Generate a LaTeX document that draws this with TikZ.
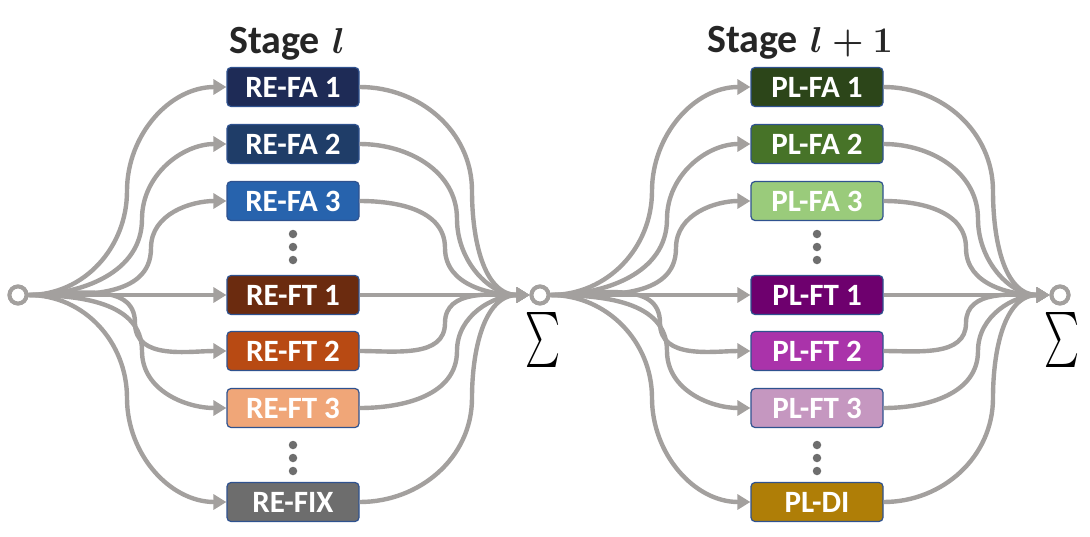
\documentclass[tikz,border=0pt]{standalone}
\usepackage{fontspec}
\setmainfont{Carlito}
\usepackage{graphicx}
\usetikzlibrary{arrows.meta}
\definecolor{wirec}{RGB}{163,160,158}
\definecolor{boxborder}{RGB}{47,82,143}
\definecolor{dotc}{RGB}{110,110,110}
\definecolor{titlec}{RGB}{38,38,38}
\definecolor{cfaA}{RGB}{30,43,86}
\definecolor{cfaB}{RGB}{31,61,104}
\definecolor{cfaC}{RGB}{39,99,173}
\definecolor{cftA}{RGB}{107,43,15}
\definecolor{cftB}{RGB}{184,74,19}
\definecolor{cftC}{RGB}{240,166,120}
\definecolor{cfix}{RGB}{109,109,109}
\definecolor{pfaA}{RGB}{44,69,25}
\definecolor{pfaB}{RGB}{71,115,40}
\definecolor{pfaC}{RGB}{154,203,123}
\definecolor{pftA}{RGB}{110,0,110}
\definecolor{pftB}{RGB}{170,51,170}
\definecolor{pftC}{RGB}{197,151,192}
\definecolor{pdi}{RGB}{175,126,7}
\newcommand{\bigmath}[1]{\resizebox{!}{25pt}{\boldmath$#1$}}
\begin{document}
\begin{tikzpicture}[x=1pt,y=-1pt,
  wire/.style={draw=wirec, line width=4.4pt},
  arr/.style={wire, -{Triangle[length=13pt,width=15pt]}},
  box/.style={draw=boxborder, line width=1.2pt, rounded corners=4pt, minimum width=132pt, minimum height=39pt, text=white, font=\fontsize{31}{34}\selectfont\bfseries, inner sep=0pt},
  junc/.style={circle, draw=wirec, line width=4pt, fill=white, minimum size=17pt, inner sep=0pt},
  vdot/.style={circle, fill=dotc, minimum size=8.5pt, inner sep=0pt},
  title/.style={text=titlec, font=\fontsize{40}{44}\selectfont\bfseries, inner sep=0pt},
  sigma/.style={inner sep=0pt}]
\useasboundingbox (0,0) rectangle (1090,536);

% titles
\node[title, anchor=base west] (t1) at (229,53) {Stage\hspace{12pt}\bigmath{l}};
\node[title, anchor=base west] (t2) at (707,52) {Stage\hspace{12pt}\bigmath{l+1}};

% junctions
\node[junc] (src) at (18,295) {};
\node[junc] (s1) at (540,295) {};
\node[junc] (s2) at (1060,295) {};
\node[sigma] (sg1) at (543,340) {\resizebox*{35pt}{55pt}{$\sum$}};
\node[sigma] (sg2) at (1062,340) {\resizebox*{35pt}{55pt}{$\sum$}};

% left boxes
\node[box, fill=cfaA] (fa1) at (293,87) {RE-FA 1};
\node[box, fill=cfaB] (fa2) at (293,144) {RE-FA 2};
\node[box, fill=cfaC] (fa3) at (293,201) {RE-FA 3};
\node[box, fill=cftA] (ft1) at (293,295) {RE-FT 1};
\node[box, fill=cftB] (ft2) at (293,351) {RE-FT 2};
\node[box, fill=cftC] (ft3) at (293,408) {RE-FT 3};
\node[box, fill=cfix] (fix) at (293,502) {RE-FIX};

% right boxes
\node[box, fill=pfaA] (pa1) at (817,87) {PL-FA 1};
\node[box, fill=pfaB] (pa2) at (817,144) {PL-FA 2};
\node[box, fill=pfaC] (pa3) at (817,201) {PL-FA 3};
\node[box, fill=pftA] (pt1) at (817,295) {PL-FT 1};
\node[box, fill=pftB] (pt2) at (817,351) {PL-FT 2};
\node[box, fill=pftC] (pt3) at (817,408) {PL-FT 3};
\node[box, fill=pdi] (pdi) at (817,502) {PL-DI};

% vertical dots
\foreach \x/\n in {293/l,817/r}{
  \node[vdot] (d\n1) at (\x,234) {};
  \node[vdot] (d\n2) at (\x,247) {};
  \node[vdot] (d\n3) at (\x,260) {};
  \node[vdot] (e\n1) at (\x,445) {};
  \node[vdot] (e\n2) at (\x,458) {};
  \node[vdot] (e\n3) at (\x,471) {};
}

% waypoints
\coordinate (ma1) at (127,191);
\coordinate (ma2) at (142,219);
\coordinate (ma3) at (151,248);
\coordinate (mb2) at (135,323);
\coordinate (mb3) at (142,351);
\coordinate (mb4) at (127,398);
\coordinate (na1) at (472,191);
\coordinate (na2) at (457,219);
\coordinate (na3) at (445,248);
\coordinate (nb2) at (445,323);
\coordinate (nb3) at (457,351);
\coordinate (nb4) at (472,398);
\coordinate (qa1) at (652,191);
\coordinate (qa2) at (667,219);
\coordinate (qa3) at (676,248);
\coordinate (qb2) at (660,323);
\coordinate (qb3) at (667,351);
\coordinate (qb4) at (652,398);
\coordinate (ra1) at (993,191);
\coordinate (ra2) at (978,219);
\coordinate (ra3) at (966,248);
\coordinate (rb2) at (966,323);
\coordinate (rb3) at (978,351);
\coordinate (rb4) at (993,398);

% stage l inputs
\draw[arr] (src.east) to[out=0,in=-90] (ma1) to[out=90,in=180] (fa1.west);
\draw[arr] (src.east) to[out=0,in=-90] (ma2) to[out=90,in=180] (fa2.west);
\draw[arr] (src.east) to[out=0,in=-90] (ma3) to[out=90,in=180] (fa3.west);
\draw[arr] (src.east) -- (ft1.west);
\draw[arr] (src.east) to[out=0,in=90] (mb2) to[out=-90,in=180] (ft2.west);
\draw[arr] (src.east) to[out=0,in=90] (mb3) to[out=-90,in=180] (ft3.west);
\draw[arr] (src.east) to[out=0,in=90] (mb4) to[out=-90,in=180] (fix.west);

% stage l outputs
\draw[arr] (fa1.east) to[out=0,in=90] (na1) to[out=-90,in=180] (s1.west);
\draw[arr] (fa2.east) to[out=0,in=90] (na2) to[out=-90,in=180] (s1.west);
\draw[arr] (fa3.east) to[out=0,in=90] (na3) to[out=-90,in=180] (s1.west);
\draw[arr] (ft1.east) -- (s1.west);
\draw[arr] (ft2.east) to[out=0,in=-90] (nb2) to[out=90,in=180] (s1.west);
\draw[arr] (ft3.east) to[out=0,in=-90] (nb3) to[out=90,in=180] (s1.west);
\draw[arr] (fix.east) to[out=0,in=-90] (nb4) to[out=90,in=180] (s1.west);

% stage l+1 inputs
\draw[arr] (s1.east) to[out=0,in=-90] (qa1) to[out=90,in=180] (pa1.west);
\draw[arr] (s1.east) to[out=0,in=-90] (qa2) to[out=90,in=180] (pa2.west);
\draw[arr] (s1.east) to[out=0,in=-90] (qa3) to[out=90,in=180] (pa3.west);
\draw[arr] (s1.east) -- (pt1.west);
\draw[arr] (s1.east) to[out=0,in=90] (qb2) to[out=-90,in=180] (pt2.west);
\draw[arr] (s1.east) to[out=0,in=90] (qb3) to[out=-90,in=180] (pt3.west);
\draw[arr] (s1.east) to[out=0,in=90] (qb4) to[out=-90,in=180] (pdi.west);

% stage l+1 outputs
\draw[arr] (pa1.east) to[out=0,in=90] (ra1) to[out=-90,in=180] (s2.west);
\draw[arr] (pa2.east) to[out=0,in=90] (ra2) to[out=-90,in=180] (s2.west);
\draw[arr] (pa3.east) to[out=0,in=90] (ra3) to[out=-90,in=180] (s2.west);
\draw[arr] (pt1.east) -- (s2.west);
\draw[arr] (pt2.east) to[out=0,in=-90] (rb2) to[out=90,in=180] (s2.west);
\draw[arr] (pt3.east) to[out=0,in=-90] (rb3) to[out=90,in=180] (s2.west);
\draw[arr] (pdi.east) to[out=0,in=-90] (rb4) to[out=90,in=180] (s2.west);

% redraw junction circles on top
\node[junc] at (src) {};
\node[junc] at (s1) {};
\node[junc] at (s2) {};
\end{tikzpicture}
\end{document}
